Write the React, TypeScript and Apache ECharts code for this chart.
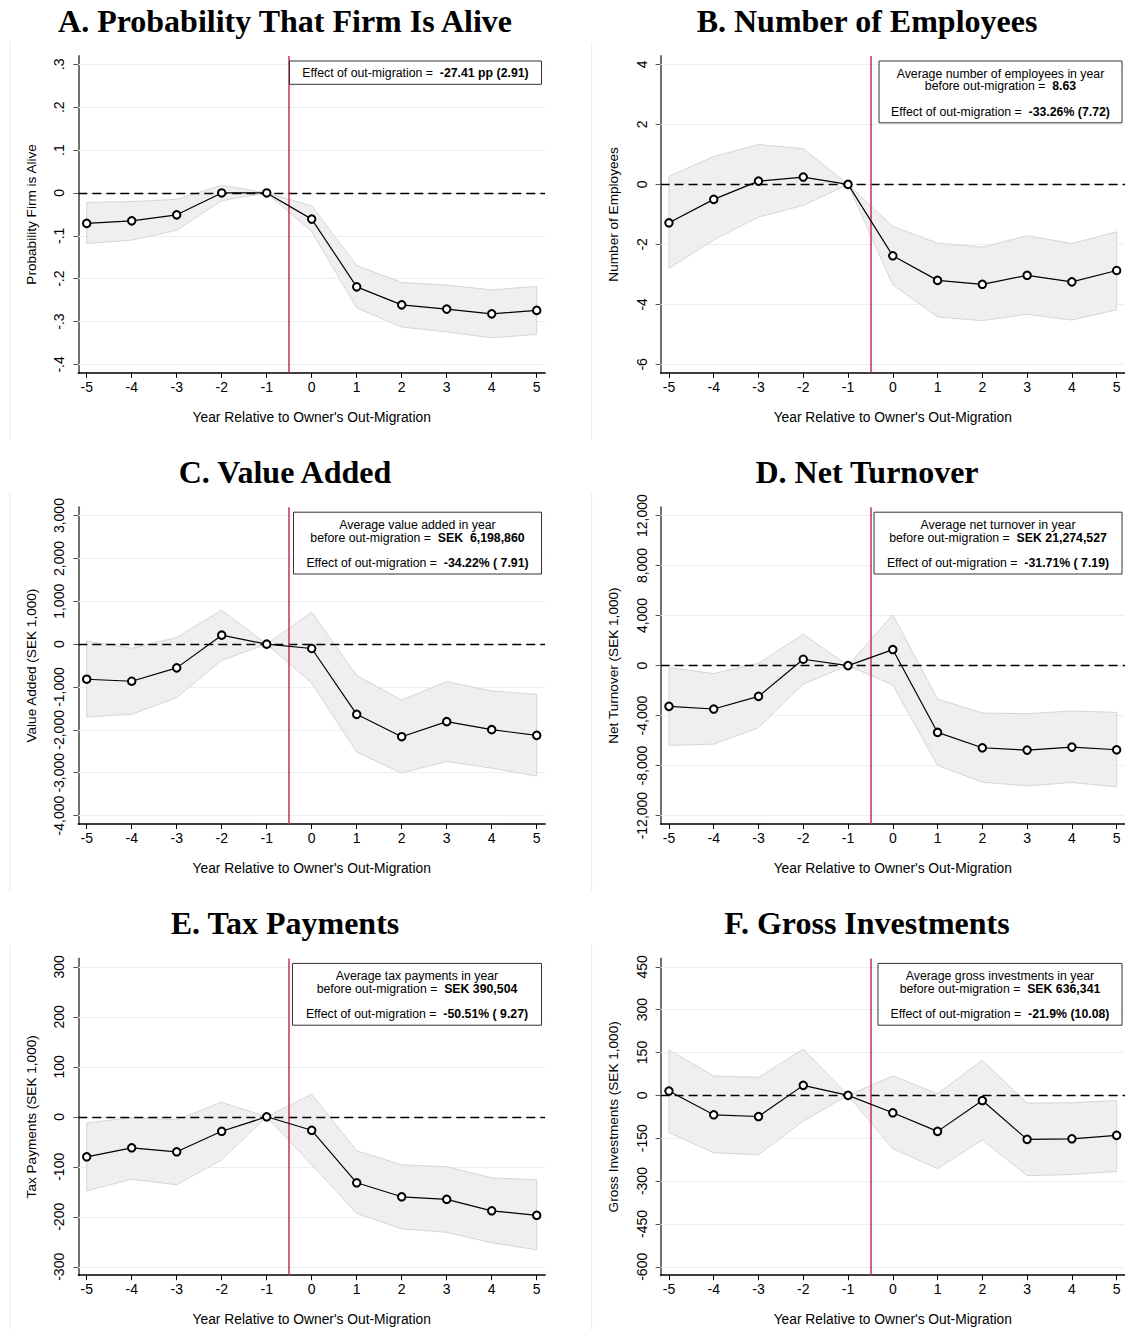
import React, { useEffect, useRef } from 'react';
import * as echarts from 'echarts';

// ---------- DATA ----------
const years = [-5, -4, -3, -2, -1, 0, 1, 2, 3, 4, 5];

const aliveEst = [-0.071, -0.065, -0.051, 0, 0, -0.061, -0.219, -0.261, -0.271, -0.282, -0.274];
const aliveHi = [-0.022, -0.02, -0.015, 0.018, 0, -0.03, -0.169, -0.209, -0.215, -0.226, -0.218];
const aliveLo = [-0.118, -0.11, -0.087, -0.018, 0, -0.09, -0.268, -0.313, -0.324, -0.338, -0.33];
const aliveTicks = [-0.4, -0.3, -0.2, -0.1, 0, 0.1, 0.2, 0.3];
const aliveTickLabels = ['-.4', '-.3', '-.2', '-.1', '0', '.1', '.2', '.3'];

const empEst = [-1.28, -0.5, 0.11, 0.245, 0, -2.38, -3.2, -3.33, -3.03, -3.25, -2.87];
const empHi = [0.27, 0.93, 1.33, 1.19, 0, -1.4, -1.96, -2.09, -1.71, -1.97, -1.58];
const empLo = [-2.8, -1.85, -1.09, -0.7, 0, -3.35, -4.42, -4.54, -4.33, -4.52, -4.18];
const empTicks = [-6, -4, -2, 0, 2, 4];
const empTickLabels = ['-6', '-4', '-2', '0', '2', '4'];

const vaEst = [-818, -865, -553, 210, 0, -101, -1637, -2159, -1808, -1995, -2128];
const vaHi = [70, -94, 156, 795, 0, 748, -733, -1302, -873, -1091, -1169];
const vaLo = [-1699, -1637, -1247, -374, 0, -904, -2518, -3009, -2736, -2892, -3079];
const vaTicks = [-4000, -3000, -2000, -1000, 0, 1000, 2000, 3000];
const vaTickLabels = ['-4,000', '-3,000', '-2,000', '-1,000', '0', '1,000', '2,000', '3,000'];

const ntEst = [-3260, -3474, -2459, 508, 0, 1283, -5345, -6574, -6761, -6521, -6734];
const ntHi = [-160, -641, 187, 2512, 0, 4062, -2672, -3795, -3848, -3634, -3741];
const ntLo = [-6387, -6280, -4971, -1470, 0, -1550, -7990, -9327, -9620, -9353, -9700];
const ntTicks = [-12000, -8000, -4000, 0, 4000, 8000, 12000];
const ntTickLabels = ['-12,000', '-8,000', '-4,000', '0', '4,000', '8,000', '12,000'];

const taxEst = [-80, -62, -70, -29, 0, -27, -132, -160, -165, -188, -197];
const taxHi = [-12, -2, -6, 29, 0, 45, -68, -96, -100, -122, -126];
const taxLo = [-148, -125, -136, -86, 0, -96, -193, -224, -231, -252, -266];
const taxTicks = [-300, -200, -100, 0, 100, 200, 300];
const taxTickLabels = ['-300', '-200', '-100', '0', '100', '200', '300'];

const invEst = [15, -68, -74, 35, 0, -61, -126, -18, -154, -152, -140];
const invHi = [159, 68, 63, 162, 0, 68, 6, 123, -27, -26, -18];
const invLo = [-130, -201, -208, -90, 0, -187, -256, -156, -281, -277, -266];
const invTicks = [-600, -450, -300, -150, 0, 150, 300, 450];
const invTickLabels = ['-600', '-450', '-300', '-150', '0', '150', '300', '450'];

const panelTitles = [
  'A. Probability That Firm Is Alive',
  'B. Number of Employees',
  'C. Value Added',
  'D. Net Turnover',
  'E. Tax Payments',
  'F. Gross Investments',
];
const yTitles = [
  'Probability Firm is Alive',
  'Number of Employees',
  'Value Added (SEK 1,000)',
  'Net Turnover (SEK 1,000)',
  'Tax Payments (SEK 1,000)',
  'Gross Investments (SEK 1,000)',
];
const xTitle = "Year Relative to Owner's Out-Migration";

// box lines: [regular part, bold part]
const boxLines: string[][][] = [
  [['Effect of out-migration =  ', '-27.41 pp (2.91)']],
  [['Average number of employees in year', ''], ['before out-migration =  ', '8.63'], ['Effect of out-migration =  ', '-33.26% (7.72)']],
  [['Average value added in year', ''], ['before out-migration =  ', 'SEK  6,198,860'], ['Effect of out-migration =  ', '-34.22% ( 7.91)']],
  [['Average net turnover in year', ''], ['before out-migration =  ', 'SEK 21,274,527'], ['Effect of out-migration =  ', '-31.71% ( 7.19)']],
  [['Average tax payments in year', ''], ['before out-migration =  ', 'SEK 390,504'], ['Effect of out-migration =  ', '-50.51% ( 9.27)']],
  [['Average gross investments in year', ''], ['before out-migration =  ', 'SEK 636,341'], ['Effect of out-migration =  ', '-21.9% (10.08)']],
];

const panelData = [
  { est: aliveEst, hi: aliveHi, lo: aliveLo, ticks: aliveTicks, labels: aliveTickLabels },
  { est: empEst, hi: empHi, lo: empLo, ticks: empTicks, labels: empTickLabels },
  { est: vaEst, hi: vaHi, lo: vaLo, ticks: vaTicks, labels: vaTickLabels },
  { est: ntEst, hi: ntHi, lo: ntLo, ticks: ntTicks, labels: ntTickLabels },
  { est: taxEst, hi: taxHi, lo: taxLo, ticks: taxTicks, labels: taxTickLabels },
  { est: invEst, hi: invHi, lo: invLo, ticks: invTicks, labels: invTickLabels },
];

// ---------- LAYOUT / STYLE ----------
const SANS = '"Liberation Sans", Arial, Helvetica, sans-serif';
const SERIF = '"Liberation Serif", "Times New Roman", serif';
const ROW_STEP = 451.2;
const PX_PER_YEAR = 45;
const PAD_PX = 8.4;
const GRID_W = 10 * PX_PER_YEAR + 2 * PAD_PX;
const GRID_H = 300 + 2 * PAD_PX;
const X_MIN = -5 - PAD_PX / PX_PER_YEAR;
const X_MAX = 5 + PAD_PX / PX_PER_YEAR;
const BOX_W = [252, 243, 248, 248, 249, 244];

function buildOption() {
  const grids: any[] = [];
  const xAxes: any[] = [];
  const yAxes: any[] = [];
  const series: any[] = [];
  const graphics: any[] = [];

  panelData.forEach((p, i) => {
    const col = i % 2;
    const row = Math.floor(i / 2);
    const left = col === 0 ? 78.3 : 660.6;
    const top = 56 + ROW_STEP * row;
    grids.push({ left, top, width: GRID_W, height: GRID_H, containLabel: false });

    const tMin = p.ticks[0];
    const tMax = p.ticks[p.ticks.length - 1];
    const pad = ((tMax - tMin) * PAD_PX) / 300;

    xAxes.push({
      gridIndex: i,
      type: 'value',
      min: X_MIN,
      max: X_MAX,
      name: xTitle,
      nameLocation: 'middle',
      nameGap: 37.5,
      nameTextStyle: { fontFamily: SANS, fontSize: 13.8, color: '#000' },
      axisLine: { show: true, onZero: false, lineStyle: { color: '#000', width: 1.5 } },
      axisTick: { show: true, customValues: years, length: 5, lineStyle: { color: '#000', width: 1 } },
      axisLabel: {
        show: true,
        customValues: years,
        margin: 7,
        fontFamily: SANS,
        fontSize: 14,
        color: '#000',
        formatter: (v: number) => String(Math.round(v)),
      },
      splitLine: { show: false },
    });

    yAxes.push({
      gridIndex: i,
      type: 'value',
      min: tMin - pad,
      max: tMax + pad,
      name: yTitles[i],
      nameLocation: 'middle',
      nameRotate: 90,
      nameGap: 40,
      nameTextStyle: { fontFamily: SANS, fontSize: 13.6, color: '#000' },
      axisLine: { show: true, onZero: false, lineStyle: { color: '#707070', width: 2 } },
      axisTick: { show: true, customValues: p.ticks, length: 5, lineStyle: { color: '#555', width: 1 } },
      axisLabel: {
        show: true,
        customValues: p.ticks,
        rotate: 90,
        margin: 12,
        fontFamily: SANS,
        fontSize: 14,
        color: '#000',
        formatter: (v: number) => {
          for (let k = 0; k < p.ticks.length; k++) {
            if (Math.abs(p.ticks[k] - v) < 1e-6 * Math.max(1, Math.abs(v))) return p.labels[k];
          }
          return '';
        },
      },
      splitLine: { show: false },
    });

    const estPairs = years.map((x, k) => [x, p.est[k]]);

    // gridlines carrier (invisible line)
    series.push({
      type: 'line',
      xAxisIndex: i,
      yAxisIndex: i,
      data: estPairs,
      symbol: 'none',
      silent: true,
      lineStyle: { opacity: 0, width: 0 },
      z: 1,
      markLine: {
        silent: true,
        z: 1,
        symbol: 'none',
        label: { show: false },
        lineStyle: { color: '#e8f0f1', width: 1, type: 'solid' },
        data: p.ticks.map((t) => ({ yAxis: t })),
      },
    });

    // CI band as a polygon through the axes' scales
    series.push({
      type: 'custom',
      xAxisIndex: i,
      yAxisIndex: i,
      silent: true,
      z: 2,
      data: [[0, 0]],
      encode: { x: 0, y: 1 },
      renderItem: (_params: any, api: any) => {
        const upper = years.map((x, k) => api.coord([x, p.hi[k]]));
        const lower = years.map((x, k) => api.coord([x, p.lo[k]])).reverse();
        return {
          type: 'polygon',
          shape: { points: upper.concat(lower) },
          style: { fill: '#efefef', stroke: '#d6d6d6', lineWidth: 1 },
        };
      },
    });

    // estimates
    series.push({
      type: 'line',
      xAxisIndex: i,
      yAxisIndex: i,
      data: estPairs,
      symbol: 'emptyCircle',
      symbolSize: 7.5,
      showSymbol: true,
      silent: true,
      lineStyle: { color: '#000', width: 1.2 },
      itemStyle: { color: '#000', borderColor: '#000', borderWidth: 1.2 },
      z: 4,
      markLine: {
        silent: true,
        z: 3,
        symbol: 'none',
        label: { show: false },
        data: [
          { yAxis: 0, lineStyle: { color: '#000', width: 1.4, type: [9, 5] } },
          { xAxis: -0.5, lineStyle: { color: '#c8314f', width: 1.5, type: 'solid' } },
        ],
      },
    });

    // title
    graphics.push({
      type: 'text',
      x: col === 0 ? 285 : 867,
      y: 21 + ROW_STEP * row,
      z: 100,
      style: {
        text: panelTitles[i],
        font: `bold 32px ${SERIF}`,
        fill: '#000',
        align: 'center',
        verticalAlign: 'middle',
        textAlign: 'center',
        textVerticalAlign: 'middle',
      },
    });

    // faint graph-region borders
    const yTop = 42 + ROW_STEP * row;
    const yBot = Math.min(1330, 440 + ROW_STEP * row);
    const bx0 = col === 0 ? 10 : 591.7;
    graphics.push({
      type: 'line',
      z: 0,
      shape: { x1: bx0, y1: yTop, x2: bx0, y2: yBot },
      style: { stroke: '#e6eded', lineWidth: 1 },
    });

    // annotation box
    const lines = boxLines[i];
    const w = BOX_W[i];
    const right = col === 0 ? 541.5 : 1122;
    const bx = right - w;
    const by = 61 + ROW_STEP * row;
    const bh = lines.length === 1 ? 23.3 : 61.8;
    graphics.push({
      type: 'rect',
      z: 100,
      shape: { x: bx, y: by, width: w, height: bh },
      style: { fill: '#fff', stroke: '#333', lineWidth: 1 },
    });
    const offsets = lines.length === 1 ? [11.8] : [12.5, 25.4, 50.6];
    lines.forEach((ln, k) => {
      const txt = ln[1] ? `{n|${ln[0]}}{b|${ln[1]}}` : `{n|${ln[0]}}`;
      graphics.push({
        type: 'text',
        z: 101,
        x: bx + w / 2,
        y: by + offsets[k],
        style: {
          text: txt,
          rich: {
            n: { fontFamily: SANS, fontSize: 12.3, fill: '#000', color: '#000' },
            b: { fontFamily: SANS, fontSize: 12.3, fontWeight: 'bold', fill: '#000', color: '#000' },
          },
          align: 'center',
          verticalAlign: 'middle',
          textAlign: 'center',
          textVerticalAlign: 'middle',
        },
      });
    });
  });

  return {
    animation: false,
    backgroundColor: '#fff',
    grid: grids,
    xAxis: xAxes,
    yAxis: yAxes,
    series,
    graphic: { elements: graphics },
  };
}

export default function App() {
  const ref = useRef<HTMLDivElement>(null);
  useEffect(() => {
    if (!ref.current) return;
    const chart = echarts.init(ref.current, undefined, { renderer: 'svg' });
    chart.setOption(buildOption() as any);
    return () => chart.dispose();
  }, []);
  return (
    <div
      ref={ref}
      style={{ position: 'absolute', left: 0, top: 0, width: 1125, height: 1330, background: '#fff' }}
    />
  );
}
